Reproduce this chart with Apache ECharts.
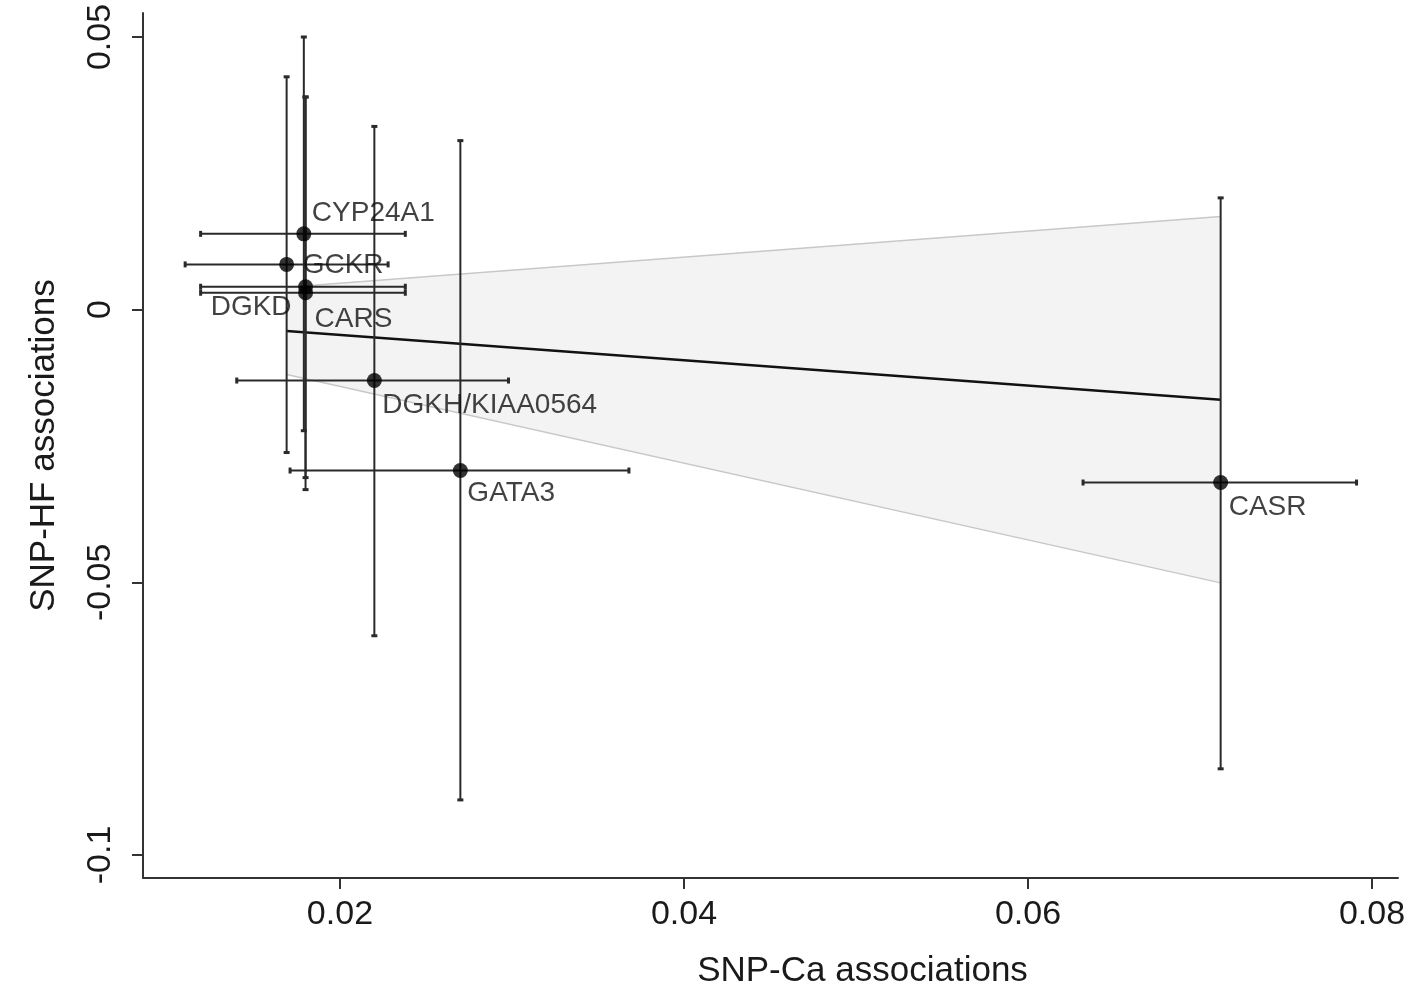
<!doctype html>
<html>
<head>
    <meta charset="UTF-8">
    <title>snp_ca_hf</title>
    <script src="https://cdn.jsdelivr.net/npm/echarts@6/dist/echarts.min.js"></script>
    <style>
        html, body {
            margin: 0;
            padding: 0;
            background: #fff;
        }
        #main {
            width: 1417px;
            height: 998px;
        }
    </style>
</head>
<body>
<div id="main"></div>
<script>
    // gene labels and SNP associations
    var genes = ['CYP24A1', 'GCKR', 'DGKD', 'CARS', 'DGKH/KIAA0564', 'GATA3', 'CASR'];
    var snpCa = [0.0179, 0.0169, 0.0180, 0.0180, 0.0220, 0.0270, 0.0712];
    var snpHf = [0.0139, 0.0083, 0.0042, 0.0031, -0.0130, -0.0295, -0.0317];
    var caLow = [0.0119, 0.0110, 0.0119, 0.0119, 0.0140, 0.0171, 0.0632];
    var caHigh = [0.0238, 0.0228, 0.0238, 0.0238, 0.0298, 0.0368, 0.0791];
    var hfLow = [-0.0222, -0.0262, -0.0330, -0.0308, -0.0598, -0.0899, -0.0842];
    var hfHigh = [0.0500, 0.0427, 0.0390, 0.0390, 0.0336, 0.0310, 0.0205];

    // fitted line and its confidence band (end points)
    var fitX = [0.0169, 0.0712];
    var fitY = [-0.0039, -0.0165];
    var ciUpper = [0.0041, 0.0171];
    var ciLower = [-0.0119, -0.0501];

    var xTicks = [0.02, 0.04, 0.06, 0.08];
    var xTickLabels = ['0.02', '0.04', '0.06', '0.08'];
    var yTicks = [-0.1, -0.05, 0, 0.05];
    var yTickLabels = ['-0.1', '-0.05', '0', '0.05'];

    // where each gene name sits around its dot
    var labelPlace = {
        'CYP24A1': {align: 'left', offset: [8, -21]},
        'GCKR': {align: 'left', offset: [16, 1]},
        'DGKD': {align: 'right', offset: [-14, 21]},
        'CARS': {align: 'left', offset: [9, 27]},
        'DGKH/KIAA0564': {align: 'left', offset: [8, 25]},
        'GATA3': {align: 'left', offset: [7, 23]},
        'CASR': {align: 'left', offset: [8, 25]}
    };

    var font = "'Liberation Sans', Arial, Helvetica, sans-serif";
    var ink = '#1a1a1a';

    var points = genes.map(function (g, i) {
        var p = labelPlace[g];
        return {
            name: g,
            value: [snpCa[i], snpHf[i]],
            label: {align: p.align, offset: p.offset}
        };
    });

    var bars = genes.map(function (g, i) {
        return [snpCa[i], snpHf[i], caLow[i], caHigh[i], hfLow[i], hfHigh[i]];
    });

    var band = fitX.map(function (x, i) {
        return [x, ciLower[i], ciUpper[i]];
    });

    var chart = echarts.init(document.getElementById('main'));

    chart.setOption({
        animation: false,
        grid: {left: 143, right: 19, top: 13, bottom: 120},
        xAxis: {
            type: 'value',
            min: 0.00855,
            max: 0.08151,
            name: 'SNP-Ca associations',
            nameLocation: 'middle',
            nameGap: 76,
            nameTextStyle: {fontFamily: font, fontSize: 35, color: ink, padding: [0, 0, 0, 184]},
            splitLine: {show: false},
            axisLine: {onZero: false, lineStyle: {color: '#333', width: 2}},
            axisTick: {customValues: xTicks, length: 11, lineStyle: {color: '#333', width: 2}},
            axisLabel: {
                customValues: xTicks,
                margin: 20,
                fontFamily: font,
                fontSize: 34,
                color: ink,
                formatter: function (v) {
                    var k = xTicks.indexOf(v);
                    return k >= 0 ? xTickLabels[k] : String(v);
                }
            }
        },
        yAxis: {
            type: 'value',
            min: -0.10422,
            max: 0.0544,
            name: 'SNP-HF associations',
            nameLocation: 'middle',
            nameRotate: 90,
            nameGap: 81,
            nameTextStyle: {fontFamily: font, fontSize: 35, color: ink},
            splitLine: {show: false},
            axisLine: {show: true, onZero: false, lineStyle: {color: '#333', width: 2}},
            axisTick: {show: true, customValues: yTicks, length: 11, lineStyle: {color: '#333', width: 2}},
            axisLabel: {
                customValues: yTicks,
                rotate: 90,
                margin: 25,
                fontFamily: font,
                fontSize: 34,
                color: ink,
                formatter: function (v) {
                    var k = yTicks.indexOf(v);
                    return k >= 0 ? yTickLabels[k] : String(v);
                }
            }
        },
        series: [
            {
                // confidence band
                type: 'custom',
                silent: true,
                z: 1,
                data: band,
                renderItem: function (params, api) {
                    if (params.dataIndex !== 0) return;
                    var up = band.map(function (d) { return api.coord([d[0], d[2]]); });
                    var lo = band.map(function (d) { return api.coord([d[0], d[1]]); });
                    var poly = up.concat(lo.slice().reverse());
                    return {
                        type: 'group',
                        children: [
                            {type: 'polygon', shape: {points: poly}, style: {fill: '#f3f3f3'}},
                            {type: 'polyline', shape: {points: up}, style: {stroke: '#c8c8c8', lineWidth: 1.5, fill: null}},
                            {type: 'polyline', shape: {points: lo}, style: {stroke: '#c8c8c8', lineWidth: 1.5, fill: null}}
                        ]
                    };
                }
            },
            {
                type: 'line',
                silent: true,
                z: 2,
                symbol: 'none',
                data: fitX.map(function (x, i) { return [x, fitY[i]]; }),
                lineStyle: {color: '#111', width: 2.5}
            },
            {
                // error bars, both directions
                type: 'custom',
                silent: true,
                z: 3,
                data: bars,
                renderItem: function (params, api) {
                    var c = api.coord([api.value(0), api.value(1)]);
                    var xl = api.coord([api.value(2), api.value(1)]);
                    var xh = api.coord([api.value(3), api.value(1)]);
                    var yl = api.coord([api.value(0), api.value(4)]);
                    var yh = api.coord([api.value(0), api.value(5)]);
                    var st = {stroke: '#2a2a2a', lineWidth: 2};
                    var cap = {stroke: '#2a2a2a', lineWidth: 3};
                    var h = 3;
                    return {
                        type: 'group',
                        children: [
                            {type: 'line', shape: {x1: xl[0], y1: c[1], x2: xh[0], y2: c[1]}, style: st},
                            {type: 'line', shape: {x1: c[0], y1: yl[1], x2: c[0], y2: yh[1]}, style: st},
                            {type: 'line', shape: {x1: xl[0], y1: c[1] - h, x2: xl[0], y2: c[1] + h}, style: cap},
                            {type: 'line', shape: {x1: xh[0], y1: c[1] - h, x2: xh[0], y2: c[1] + h}, style: cap},
                            {type: 'line', shape: {x1: c[0] - h, y1: yl[1], x2: c[0] + h, y2: yl[1]}, style: cap},
                            {type: 'line', shape: {x1: c[0] - h, y1: yh[1], x2: c[0] + h, y2: yh[1]}, style: cap}
                        ]
                    };
                }
            },
            {
                type: 'scatter',
                silent: true,
                z: 4,
                symbol: 'circle',
                symbolSize: 15,
                itemStyle: {color: '#000'},
                data: points,
                label: {
                    show: true,
                    position: 'inside',
                    verticalAlign: 'middle',
                    fontFamily: font,
                    fontSize: 28,
                    color: '#111',
                    formatter: '{b}'
                }
            }
        ]
    });
</script>
</body>
</html>
